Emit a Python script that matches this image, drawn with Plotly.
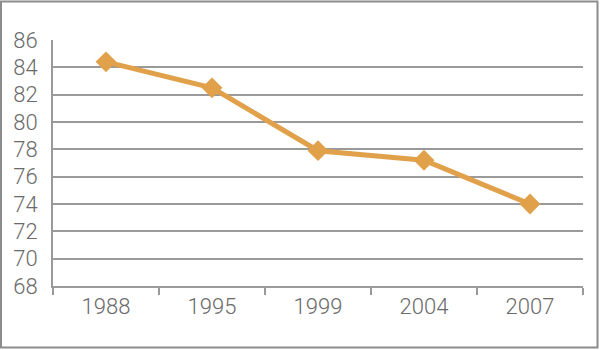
import plotly.graph_objects as go

# Survey years and their values
years = ["1988", "1995", "1999", "2004", "2007"]
values = [84.4, 82.5, 77.9, 77.2, 74.0]
y_ticks = [68, 70, 72, 74, 76, 78, 80, 82, 84, 86]

line_color = "#E1A04A"
grid_color = "#9a9a9a"
text_color = "#6a6a6a"

fig = go.Figure(
    go.Scatter(
        x=years,
        y=values,
        mode="lines+markers",
        line=dict(color=line_color, width=5),
        marker=dict(symbol="diamond", size=16, color=line_color),
        cliponaxis=False,
        hoverinfo="x+y",
    )
)

fig.update_layout(
    width=600,
    height=350,
    margin=dict(l=53, r=17, t=40, b=64),
    paper_bgcolor="white",
    plot_bgcolor="white",
    showlegend=False,
    font=dict(family="Roboto", size=22, color=text_color, weight=300),
    xaxis=dict(
        type="category",
        range=[-0.5, 4.5],
        showgrid=False,
        showline=True,
        linecolor=grid_color,
        linewidth=2,
        ticks="outside",
        tickson="boundaries",
        ticklen=7,
        tickwidth=2,
        tickcolor=grid_color,
        fixedrange=True,
    ),
    yaxis=dict(
        range=[68, 86],
        tickvals=y_ticks,
        showgrid=True,
        gridcolor=grid_color,
        gridwidth=1.5,
        showline=True,
        linecolor=grid_color,
        linewidth=2,
        zeroline=False,
        ticks="",
        ticklabelstandoff=9,
        fixedrange=True,
    ),
    shapes=[
        dict(
            type="rect",
            xref="paper",
            yref="paper",
            x0=(1 - 53) / 530,
            x1=(597.5 - 53) / 530,
            y0=(286 - 347.5) / 246,
            y1=(286 - 1.5) / 246,
            line=dict(color="#8c8c8c", width=2),
            layer="below",
        )
    ],
)

fig.write_html("out.html")
